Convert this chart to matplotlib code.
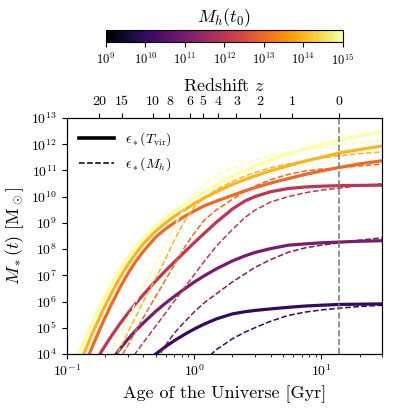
import numpy as np
import matplotlib
matplotlib.use('Agg')
import matplotlib.pyplot as plt
from matplotlib.colors import LogNorm
import matplotlib.cm as cm

plt.rcParams['font.family'] = 'serif'
plt.rcParams['font.serif'] = ['cmr10']
plt.rcParams['mathtext.fontset'] = 'cm'
plt.rcParams['axes.formatter.use_mathtext'] = True

nan = np.nan

# halo masses today (Msun)
halo_masses = [1e10, 1e11, 1e12, 1e13, 1e14, 1e15]

# age of the universe [Gyr]
age = [0.1, 0.12, 0.14, 0.16, 0.19, 0.22, 0.26, 0.3, 0.35, 0.4, 0.5, 0.6, 0.7, 0.85,
       1.0, 1.2, 1.5, 2.0, 2.5, 3.0, 4.0, 5.5, 7.5, 10.0, 14.0, 20.0, 30.0]

# log10 M*(t) with eps*(T_vir)
tvir_1e10 = [nan, nan, nan, nan, nan, nan, nan, nan, nan, 3.59, 4.0, 4.29, 4.51, 4.76,
             4.95, 5.14, 5.34, 5.53, 5.61, 5.66, 5.72, 5.78, 5.83, 5.86, 5.89, 5.90, 5.91]
tvir_1e11 = [0.78, 1.53, 2.13, 2.62, 3.22, 3.69, 4.18, 4.55, 4.91, 5.19, 5.63, 5.95, 6.20, 6.50,
             6.74, 6.98, 7.25, 7.55, 7.74, 7.87, 8.02, 8.15, 8.20, 8.24, 8.27, 8.30, 8.32]
tvir_1e12 = [1.6, 2.45, 3.04, 3.54, 4.15, 4.63, 5.14, 5.54, 5.94, 6.27, 6.79, 7.19, 7.51, 7.91,
             8.24, 8.60, 9.03, 9.53, 9.83, 10.00, 10.19, 10.31, 10.37, 10.40, 10.42, 10.43, 10.44]
tvir_1e13 = [1.73, 2.79, 3.63, 4.33, 5.16, 5.82, 6.51, 7.05, 7.55, 7.92, 8.46, 8.78, 9.01, 9.26,
             9.45, 9.65, 9.83, 10.05, 10.22, 10.34, 10.52, 10.69, 10.85, 10.98, 11.12, 11.25, 11.37]
tvir_1e14 = [2.33, 3.35, 4.16, 4.83, 5.62, 6.24, 6.90, 7.39, 7.85, 8.21, 8.69, 9.01, 9.25, 9.51,
             9.73, 9.95, 10.19, 10.47, 10.65, 10.79, 10.99, 11.18, 11.36, 11.50, 11.67, 11.80, 11.93]
tvir_1e15 = [2.85, 3.83, 4.61, 5.25, 6.01, 6.60, 7.21, 7.66, 8.09, 8.42, 8.88, 9.20, 9.45, 9.73,
             9.95, 10.18, 10.45, 10.77, 10.99, 11.16, 11.40, 11.63, 11.83, 11.99, 12.16, 12.32, 12.48]

# log10 M*(t) with eps*(M_h)
mh_1e10 = [nan, nan, nan, nan, nan, nan, nan, nan, nan, nan, nan, nan, nan, nan,
           nan, 3.75, 4.17, 4.58, 4.83, 5.0, 5.25, 5.47, 5.6, 5.68, 5.75, 5.81, 5.86]
mh_1e11 = [nan, nan, nan, nan, nan, nan, nan, nan, nan, 3.0, 3.75, 4.35, 4.8, 5.25,
           5.6, 5.95, 6.3, 6.75, 7.05, 7.3, 7.6, 7.88, 8.05, 8.15, 8.24, 8.34, 8.43]
mh_1e12 = [nan, nan, nan, nan, nan, nan, 3.2, 3.62, 4.06, 4.44, 5.07, 5.58, 6.02, 6.56,
           7.02, 7.53, 8.12, 8.75, 9.2, 9.48, 9.8, 10.0, 10.15, 10.25, 10.33, 10.42, 10.49]
mh_1e13 = [nan, nan, nan, nan, 2.65, 3.2, 3.8, 4.3, 4.9, 5.4, 6.2, 6.85, 7.4, 8.1,
           8.6, 9.1, 9.5, 9.9, 10.2, 10.4, 10.65, 10.85, 10.98, 11.05, 11.1, 11.17, 11.24]
mh_1e14 = [nan, nan, nan, 2.1, 2.85, 3.45, 4.2, 4.8, 5.45, 6.0, 6.9, 7.65, 8.35, 9.1,
           9.6, 9.95, 10.28, 10.58, 10.78, 10.92, 11.1, 11.25, 11.37, 11.47, 11.56, 11.64, 11.71]
mh_1e15 = [nan, nan, 2.1, 2.7, 3.4, 4.03, 4.75, 5.35, 6.0, 6.55, 7.45, 8.2, 8.9, 9.6,
           10.1, 10.45, 10.8, 11.08, 11.27, 11.4, 11.55, 11.68, 11.79, 11.88, 11.98, 12.06, 12.13]

z_ticks = [20, 15, 10, 8, 6, 5, 4, 3, 2, 1, 0]

tvir_all = [tvir_1e10, tvir_1e11, tvir_1e12, tvir_1e13, tvir_1e14, tvir_1e15]
mh_all = [mh_1e10, mh_1e11, mh_1e12, mh_1e13, mh_1e14, mh_1e15]


def age_at_z(z, H0=67.7, Om=0.31):
	# flat LCDM age in Gyr
	OL = 1.0 - Om
	tH = 977.8 / H0
	return 2.0 / 3.0 * tH / np.sqrt(OL) * np.arcsinh(np.sqrt(OL / Om) * (1.0 + np.asarray(z, dtype=float))**-1.5)


t0 = age_at_z(0)
norm = LogNorm(vmin=1e9, vmax=1e15)
cmap = plt.get_cmap('inferno')

fig = plt.figure(figsize=(3.98, 4.09), dpi=100)
ax = fig.add_axes([0.168, 0.1345, 0.792, 0.577])

for mh, ys, yd in zip(halo_masses, tvir_all, mh_all):
	c = cmap(norm(mh))
	ax.plot(age, 10**np.array(ys), '-', color=c, lw=2.3)
	ax.plot(age, 10**np.array(yd), '--', color=c, lw=1.1)

ax.axvline(t0, color='gray', ls='--', lw=1.2)

ax.plot([], [], 'k-', lw=2.6, label=r'$\epsilon_*(T_{\rm vir})$')
ax.plot([], [], 'k--', lw=1.1, label=r'$\epsilon_*(M_h)$')
ax.legend(loc='upper left', frameon=False, fontsize=10, handlelength=2.5)

ax.set_xscale('log')
ax.set_yscale('log')
ax.set_xlim(0.1, 30)
ax.set_ylim(1e4, 1e13)
ax.set_xlabel('Age of the Universe [Gyr]', fontsize=13)
ax.set_ylabel(r'$M_*(t)$ [M$_\odot$]', fontsize=13)
ax.tick_params(labelsize=10)
ax.yaxis.set_major_locator(matplotlib.ticker.LogLocator(base=10, numticks=20))
ax.yaxis.set_minor_locator(matplotlib.ticker.LogLocator(base=10, subs=np.arange(2, 10), numticks=20))

ax2 = ax.twiny()
ax2.set_xscale('log')
ax2.set_xlim(ax.get_xlim())
ax2.set_xticks(age_at_z(z_ticks))
ax2.set_xticklabels([str(z) for z in z_ticks])
ax2.minorticks_off()
ax2.tick_params(labelsize=10)
ax2.set_xlabel(r'Redshift $z$', fontsize=13)

cax = fig.add_axes([0.266, 0.897, 0.595, 0.029])
sm = cm.ScalarMappable(norm=norm, cmap=cmap)
cb = fig.colorbar(sm, cax=cax, orientation='horizontal')
cb.ax.tick_params(labelsize=9)
cb.ax.minorticks_off()
cb.set_label(r'$M_h(t_0)$', fontsize=13, labelpad=6)
cb.ax.xaxis.set_label_position('top')

plt.savefig('out.png', dpi=100)
